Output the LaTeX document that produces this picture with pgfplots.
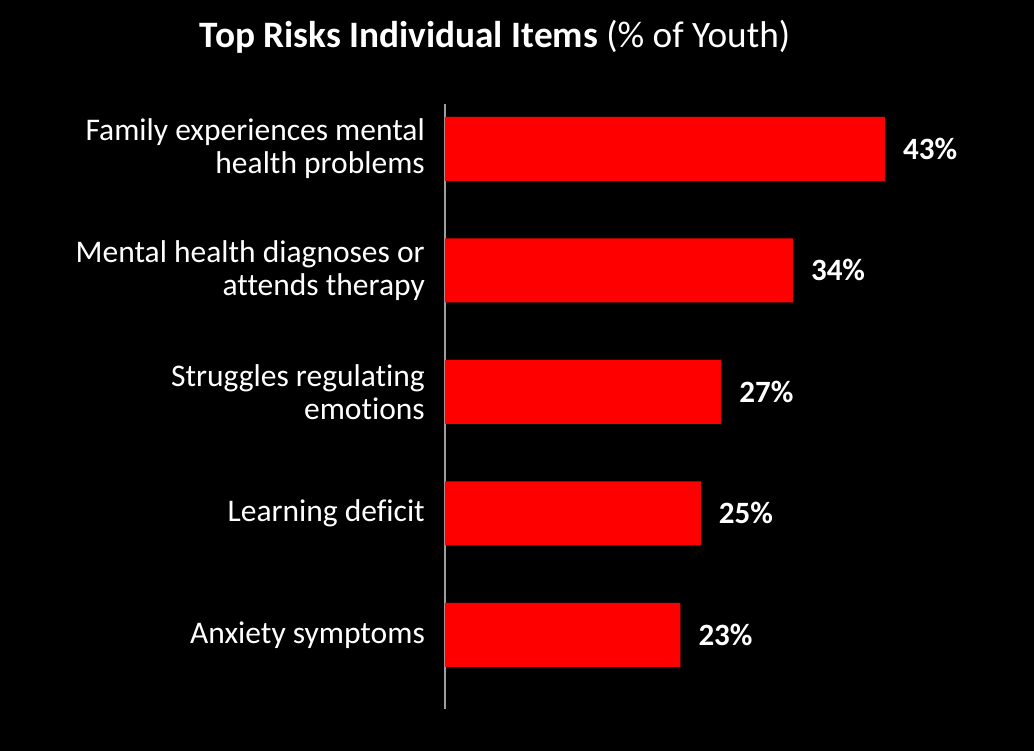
\documentclass[border=0pt]{standalone}
\usepackage{pgfplots}
\pgfplotsset{compat=1.18}
\usepackage{fontspec}
\setmainfont{Carlito}[Ligatures=NoCommon]
\begin{document}
\begin{tikzpicture}[x=1pt,y=1pt]
\fill[black] (0,0) rectangle (1034,751);
\useasboundingbox (0,0) rectangle (1034,751);
\node[white, font=\fontsize{37.3}{44}\selectfont] at (495,714) {\textbf{Top Risks Individual Items} (\% of Youth)};
\begin{axis}[
  at={(445pt,42pt)}, anchor=south west,
  scale only axis, width=562.7pt, height=605pt,
  xmin=0, xmax=55, ymin=-0.61, ymax=4.37,
  xbar, bar width=64pt,
  axis x line=none, axis y line*=left,
  axis line style={draw=gray!75, line width=1.5pt},
  ytick={0,1,2,3,4},
  yticklabels={Anxiety symptoms, Learning deficit, Struggles regulating\\emotions, Mental health diagnoses or\\attends therapy, Family experiences mental\\health problems},
  major tick length=0pt,
  yticklabel style={align=right, text=white, font=\fontsize{31.5}{33}\selectfont, inner sep=0pt, xshift=-20pt},
  /pgf/number format/assume math mode=true,
  nodes near coords={\pgfmathprintnumber{\pgfplotspointmeta}\%},
  every node near coord/.append style={text=white, font=\bfseries\fontsize{31}{36}\selectfont, inner sep=0pt, xshift=18pt},
  clip=false,
]
\addplot[fill=red, draw=none] coordinates {(23,0) (25,1) (27,2) (34,3) (43,4)};
\end{axis}
\end{tikzpicture}
\end{document}
